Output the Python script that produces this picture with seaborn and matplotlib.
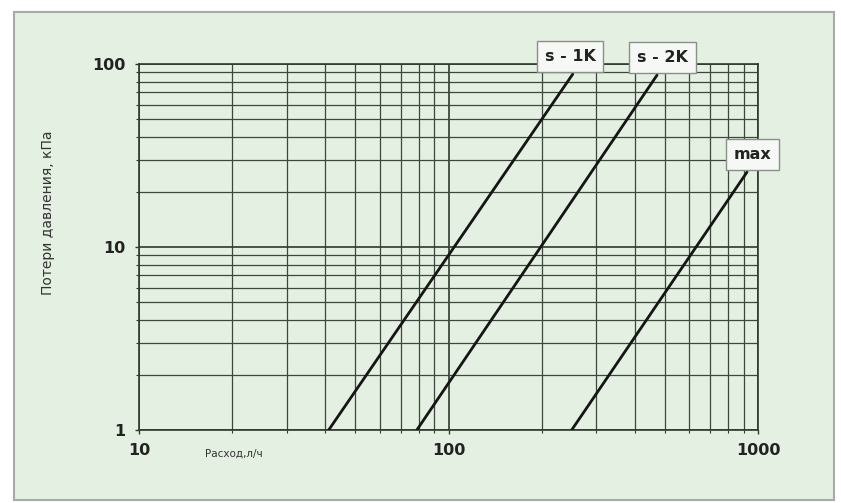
import seaborn as sns
import matplotlib.pyplot as plt
import matplotlib.patches as patches
import pandas as pd
from matplotlib.ticker import LogLocator, NullFormatter, FixedLocator, FixedFormatter

# Data (flow l/h vs pressure loss kPa)
series_names = ["s - 1K", "s - 2K", "max"]
flow_s1k = [41, 252]
loss_s1k = [1, 88]
flow_s2k = [79, 472]
loss_s2k = [1, 87]
flow_max = [250, 922]
loss_max = [1, 25.7]

x_ticks = [10, 100, 1000]
y_ticks = [1, 10, 100]

records = []
for name, flows, losses in zip(series_names, [flow_s1k, flow_s2k, flow_max],
                               [loss_s1k, loss_s2k, loss_max]):
    for q, p in zip(flows, losses):
        records.append({"Series": name, "Flow": q, "Loss": p})
df = pd.DataFrame(records)

sns.set_theme(style="ticks")
plt.rcParams['font.family'] = ['DejaVu Sans']

bg = "#e4f0e1"
fig = plt.figure(figsize=(8.41, 5.03), dpi=100, facecolor="white")
# green panel with grey frame, behind the axes
fig.patches.append(patches.Rectangle((14 / 841, 3 / 503), 820 / 841, 488 / 503,
                                     transform=fig.transFigure, facecolor=bg,
                                     edgecolor="#a8aca8", linewidth=1.5, zorder=-10))
ax = fig.add_axes([0.1653, 0.1451, 0.7360, 0.7277])
ax.set_facecolor(bg)

sns.lineplot(data=df, x="Flow", y="Loss", hue="Series", palette=["#151515"] * 3,
             linewidth=2.0, legend=False, ax=ax, zorder=5)

ax.set_xscale("log")
ax.set_yscale("log")
ax.set_xlim(10, 1000)
ax.set_ylim(1, 100)

ax.xaxis.set_major_locator(FixedLocator(x_ticks))
ax.xaxis.set_major_formatter(FixedFormatter([str(t) for t in x_ticks]))
ax.yaxis.set_major_locator(FixedLocator(y_ticks))
ax.yaxis.set_major_formatter(FixedFormatter([str(t) for t in y_ticks]))
ax.xaxis.set_minor_locator(LogLocator(base=10, subs=range(2, 10)))
ax.yaxis.set_minor_locator(LogLocator(base=10, subs=range(2, 10)))
ax.xaxis.set_minor_formatter(NullFormatter())
ax.yaxis.set_minor_formatter(NullFormatter())

ax.grid(True, which="major", color="#2f3a2f", linewidth=1.2)
ax.grid(True, which="minor", color="#3c483c", linewidth=0.9)
for s in ax.spines.values():
    s.set_color("#2f3a2f")
    s.set_linewidth(1.2)

ax.tick_params(axis="both", which="major", labelsize=11.5, length=3, width=1,
               color="#2f3a2f")
ax.tick_params(axis="both", which="minor", length=2, width=0.8, color="#2f3a2f")
ax.tick_params(axis="y", pad=7)
ax.tick_params(axis="x", pad=6)
for lbl in ax.get_xticklabels() + ax.get_yticklabels():
    lbl.set_fontweight("bold")
    lbl.set_color("#222222")

ax.set_xlabel("")
ax.set_ylabel("")
fig.text(0.057, 0.578, "Потери давления, кПа", rotation=90, ha="center", va="center",
         fontsize=10, color="#333333")
ax.text(0.107, -0.065, "Расход,л/ч", transform=ax.transAxes, ha="left", va="center",
        fontsize=7.5, color="#333333")

# series labels in boxes at the upper end of each line
label_dx = {"s - 1K": -2, "s - 2K": 4, "max": 4}
for name, flows, losses in zip(series_names, [flow_s1k, flow_s2k, flow_max],
                               [loss_s1k, loss_s2k, loss_max]):
    ax.annotate(name, xy=(flows[-1], losses[-1]), xytext=(label_dx[name], 7),
                textcoords="offset points", ha="center", va="bottom",
                fontsize=11.5, fontweight="bold", color="#222222",
                annotation_clip=False, zorder=6,
                bbox=dict(boxstyle="square,pad=0.5", facecolor="#f6f8f5",
                          edgecolor="#8a8f8a", linewidth=1.0))

plt.savefig("out.png", dpi=100, facecolor="white")
